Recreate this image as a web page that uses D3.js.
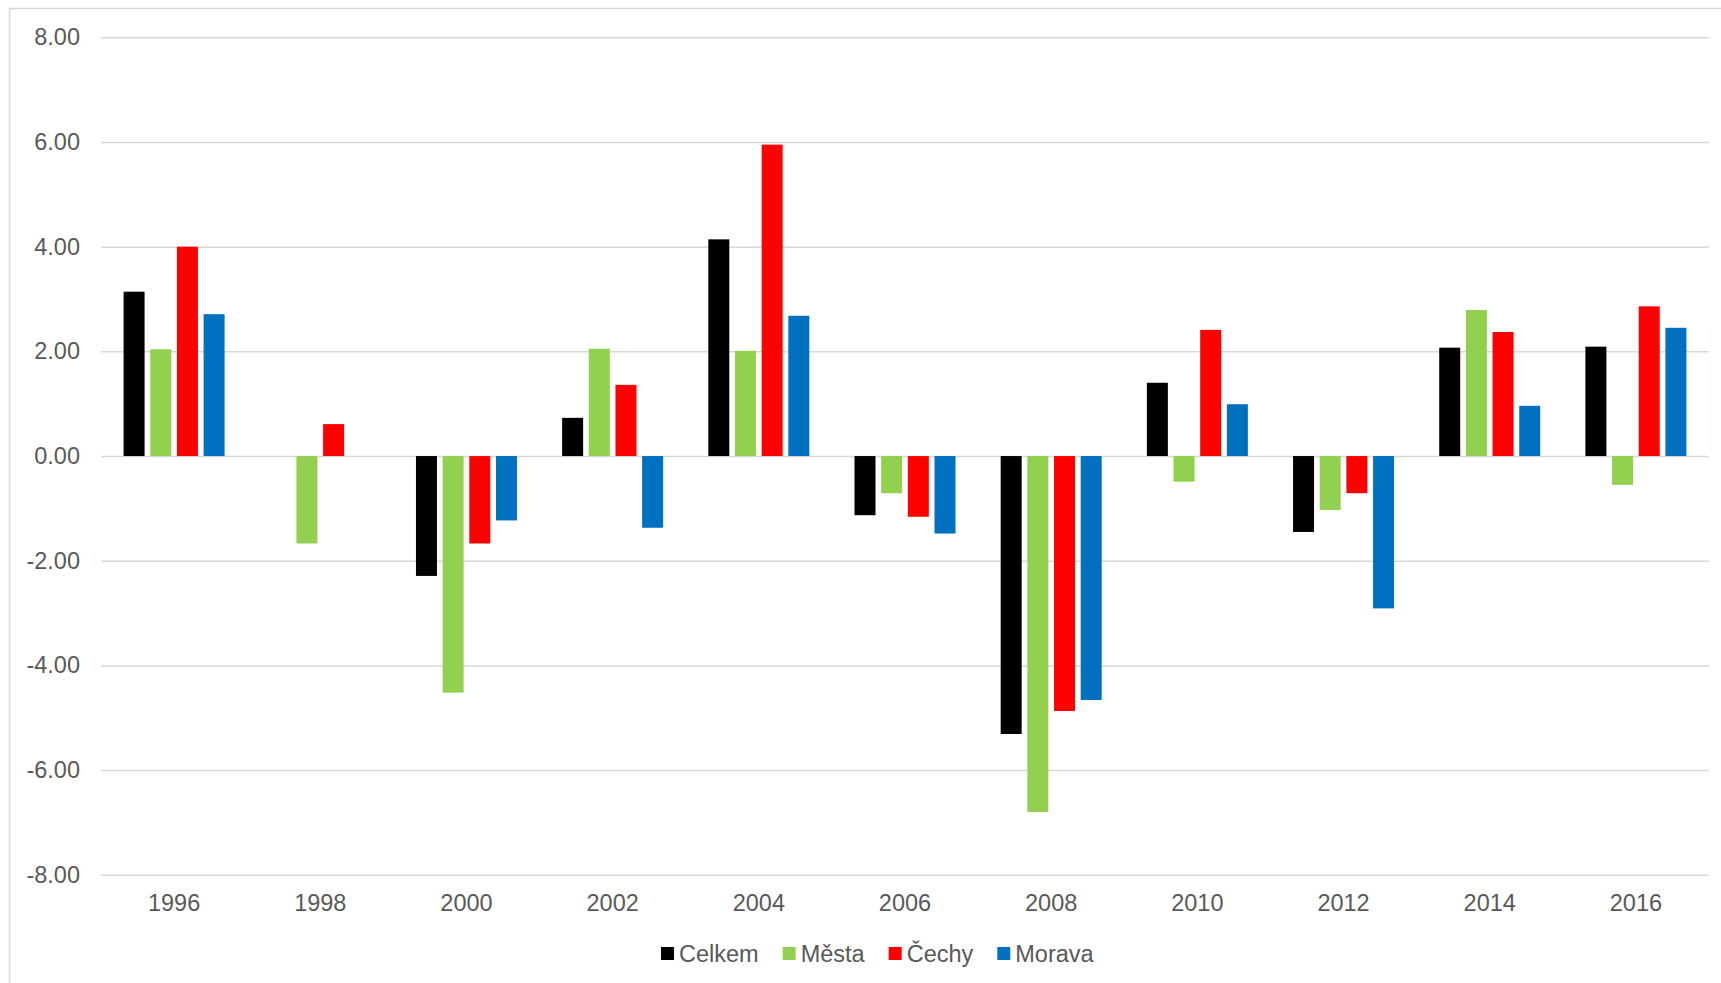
<!DOCTYPE html>
<html>
<head>
<meta charset="utf-8">
<script src="https://cdn.jsdelivr.net/npm/d3@7"></script>
<style>
    body { margin: 0; background: #fff; }
    svg { display: block; font-family: 'Liberation Sans', Arial, sans-serif; }
</style>
</head>
<body>
<div id="chart"></div>
<script>
const years = ['1996', '1998', '2000', '2002', '2004', '2006', '2008', '2010', '2012', '2014', '2016'];
const seriesNames = ['Celkem', 'Města', 'Čechy', 'Morava'];
const seriesColors = ['#000000', '#92d050', '#ff0000', '#0070c0'];
const celkem = [3.14, 0, -2.29, 0.73, 4.14, -1.13, -5.31, 1.40, -1.45, 2.07, 2.09];
const mesta = [2.04, -1.67, -4.52, 2.05, 2.01, -0.71, -6.80, -0.49, -1.03, 2.79, -0.55];
const cechy = [4.00, 0.61, -1.67, 1.36, 5.95, -1.16, -4.87, 2.41, -0.71, 2.37, 2.86];
const morava = [2.71, 0, -1.23, -1.37, 2.68, -1.48, -4.66, 0.99, -2.91, 0.96, 2.45];
const yTicks = [-8, -6, -4, -2, 0, 2, 4, 6, 8];

const seriesValues = [celkem, mesta, cechy, morava];

const width = 1721, height = 983;
const plotLeft = 101, plotRight = 1709, plotTop = 37.3, plotBottom = 874.8;
const textColor = '#595959';
const fontSize = '23.5px';

const svg = d3.select('#chart').append('svg')
    .attr('width', width)
    .attr('height', height);

// outer chart border
svg.append('rect')
    .attr('x', 9.5).attr('y', 8.5)
    .attr('width', width).attr('height', height)
    .attr('fill', 'none')
    .attr('stroke', '#d9d9d9')
    .attr('stroke-width', 1.5);

const y = d3.scaleLinear().domain([-8, 8]).range([plotBottom, plotTop]);
const x0 = d3.scaleBand().domain(years).range([plotLeft, plotRight]);
const groupW = 101;
const off = (x0.bandwidth() - groupW) / 2;
const x1 = d3.scaleBand().domain(seriesNames)
    .range([off, off + groupW])
    .paddingInner(0.213)
    .paddingOuter(0);

// gridlines + y labels (plain hyphen for negatives, like the original)
const yAxis = svg.append('g')
    .attr('transform', `translate(${plotLeft},0)`)
    .call(d3.axisLeft(y)
        .tickValues(yTicks)
        .tickSize(-(plotRight - plotLeft))
        .tickPadding(21)
        .tickFormat(d => d.toFixed(2)));
yAxis.select('.domain').remove();
yAxis.selectAll('line').attr('stroke', '#d9d9d9').attr('stroke-width', 1.5);
yAxis.selectAll('text')
    .attr('fill', textColor)
    .style('font-size', fontSize)
    .style('font-family', "'Liberation Sans', Arial, sans-serif");

// bars
const groups = svg.append('g')
    .selectAll('g')
    .data(years)
    .join('g')
    .attr('transform', d => `translate(${x0(d)},0)`);

groups.selectAll('rect')
    .data((yr, i) => seriesNames.map((s, k) => ({ s, k, v: seriesValues[k][i] })).filter(d => d.v !== 0))
    .join('rect')
    .attr('x', d => x1(d.s))
    .attr('width', x1.bandwidth())
    .attr('y', d => y(Math.max(0, d.v)))
    .attr('height', d => Math.abs(y(d.v) - y(0)))
    .attr('fill', d => seriesColors[d.k]);

// x labels
const xAxis = svg.append('g')
    .attr('transform', `translate(0,${plotBottom})`)
    .call(d3.axisBottom(x0).tickSize(0).tickPadding(20));
xAxis.select('.domain').remove();
xAxis.selectAll('text')
    .attr('fill', textColor)
    .style('font-size', fontSize)
    .style('font-family', "'Liberation Sans', Arial, sans-serif");

// legend
const legend = svg.append('g').attr('transform', 'translate(661,947)');
let lx = 0;
seriesNames.forEach((name, k) => {
    const item = legend.append('g').attr('transform', `translate(${lx},0)`);
    item.append('rect')
        .attr('width', 13).attr('height', 13)
        .attr('fill', seriesColors[k]);
    const t = item.append('text')
        .attr('x', 18).attr('y', 15)
        .attr('fill', textColor)
        .style('font-size', fontSize)
        .text(name);
    lx += 18 + t.node().getComputedTextLength() + 24;
});
</script>
</body>
</html>
